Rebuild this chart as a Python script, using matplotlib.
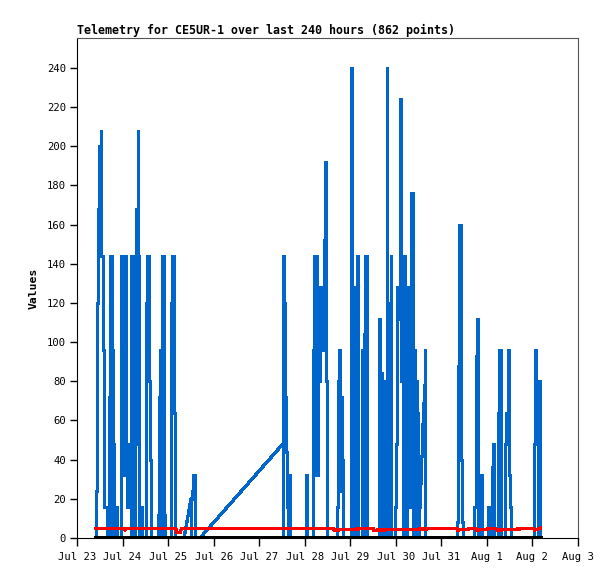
import matplotlib
matplotlib.use("Agg")
import matplotlib.pyplot as plt

# hours since Jul 23 00:00
blue_hours = [
    9.75, 10.0, 10.3, 10.8, 11.3, 11.85, 12.4, 12.9, 13.45, 13.7, 14.2, 15.3, 15.8, 16.3, 16.6,
    17.1, 17.65, 18.2, 18.4, 19.0, 19.2, 19.5, 20.5, 20.6, 21.0, 22.9, 23.2, 23.45, 24.0, 24.2,
    24.75, 25.0, 25.3, 25.55, 25.8, 26.05, 26.35, 26.6, 26.9, 27.4, 27.9, 28.2, 28.45, 29.0, 29.2,
    29.5, 30.0, 30.55, 31.1, 31.35, 31.9, 32.1, 32.4, 32.7, 32.9, 34.0, 34.25, 34.5, 36.4, 36.6,
    37.15, 37.7, 38.2, 38.7, 39.25, 42.4, 42.7, 43.2, 43.7, 44.0, 44.3, 44.8, 45.3, 45.6, 46.1,
    46.6, 49.0, 49.5, 50.05, 50.6, 51.1, 51.4,
    56.4, 60.1, 60.6, 60.9, 62.2, 62.4,
    64.8, 108.5, 108.8, 109.3, 109.6, 109.9, 110.1, 110.7, 110.9, 111.4, 112.0, 112.2,
    120.7, 120.9, 121.2,
    124.3, 124.6, 125.1, 125.7, 125.9, 126.2, 126.5, 126.7, 127.0, 127.5, 127.8, 128.3, 128.85,
    129.1, 129.6, 130.1, 130.7, 131.2, 131.7,
    136.5, 137.0, 137.3, 137.6, 138.1, 138.6, 139.1, 139.6, 139.9, 140.4,
    144.1, 144.4, 144.9, 145.2, 145.7, 146.0, 146.5, 147.0, 147.6, 148.1, 148.3, 150.0, 150.2,
    150.5, 151.2, 151.5, 152.0, 152.6, 152.9,
    158.6, 158.9, 159.4, 159.9, 160.5, 160.7, 162.0, 162.3, 163.1, 163.6, 163.9, 165.2, 165.4,
    165.7, 167.3, 167.55, 168.1, 168.6, 169.4, 170.2, 170.7, 171.2, 171.8, 172.0, 172.3, 172.8,
    173.3, 173.6, 173.9, 174.4, 174.9, 175.5, 175.75, 176.0, 176.5, 176.8, 177.3, 177.6, 178.1,
    178.3, 178.6, 179.1, 179.7, 179.9, 180.2, 180.7, 181.2, 181.8, 182.3, 182.8, 183.4, 183.6,
    200.2, 200.5, 201.0, 201.5, 202.1, 202.6, 203.1, 203.4,
    209.2, 209.4, 210.0, 210.5, 211.0, 211.3, 212.4, 212.6, 213.2, 213.4, 216.6, 216.8, 217.1,
    217.9, 218.1, 218.7, 219.2, 219.7, 220.0, 221.9, 222.1, 222.6, 223.2, 223.4, 225.3, 225.5,
    226.3, 226.9, 227.4, 227.9, 228.4, 228.7,
    240.8, 241.0, 241.5, 242.1, 242.6, 242.9, 243.5, 243.7, 244.2,
]
blue_values = [
    0, 24, 72, 120, 168, 200, 208, 144, 104, 96, 16, 16, 0, 8, 0,
    72, 144, 80, 0, 96, 48, 0, 0, 16, 0, 0, 104, 144, 40, 144,
    32, 144, 56, 32, 144, 48, 16, 40, 48, 32, 16, 0, 144, 96, 48,
    144, 0, 48, 120, 168, 208, 208, 144, 48, 0, 0, 16, 0, 0, 120,
    144, 144, 80, 40, 0, 0, 12, 72, 96, 24, 0, 144, 144, 16, 12,
    0, 0, 120, 144, 144, 64, 0,
    0, 20, 24, 32, 32, 0,
    0, 48, 144, 120, 72, 48, 44, 32, 16, 0, 32, 0,
    0, 32, 0,
    0, 96, 144, 32, 144, 112, 144, 32, 112, 128, 80, 112, 120,
    96, 128, 152, 192, 80, 0,
    0, 16, 48, 80, 96, 64, 24, 72, 40, 0,
    0, 240, 128, 0, 88, 0, 128, 24, 144, 96, 0, 0, 96,
    0, 0, 104, 144, 72, 0,
    0, 24, 112, 84, 24, 0, 0, 80, 240, 120, 0, 0, 144,
    0, 0, 16, 48, 128, 112, 224, 80, 128, 0, 112, 144, 112,
    56, 0, 112, 128, 80, 16, 88, 176, 176, 96, 0, 96, 48,
    0, 80, 64, 16, 0, 16, 28, 42, 58, 69, 78, 96, 0,
    0, 8, 88, 160, 96, 40, 8, 0,
    0, 16, 56, 93, 112, 0, 0, 32, 16, 0, 0, 16, 0,
    0, 16, 36, 48, 24, 0, 0, 64, 96, 48, 0, 0, 48,
    64, 96, 72, 32, 16, 0,
    0, 48, 96, 80, 48, 0, 0, 80, 0,
]

# the two long gaps are drawn as straight ramps, the rest as steps
ramp_hours = [[56.4, 60.1], [64.8, 108.5]]
ramp_values = [[0, 20], [0, 48]]

red_hours = [9.75, 25.0, 25.4, 26.0, 52.0, 52.5, 54.5, 55.0, 135.0, 135.3, 156.0, 156.3,
             200.0, 200.4, 210.0, 210.5, 220.0, 221.5, 240.5, 241.0, 244.2]
red_values = [5, 5, 4, 5, 5, 3, 3, 5, 5, 4, 5, 4,
              5, 4, 5, 4, 5, 4, 5, 4, 5]

zero_hours = [9.75, 244.2]
zero_values = [0, 0]

y_ticks = list(range(0, 241, 20))
x_ticks = [24 * d for d in range(12)]
x_labels = ["Jul 23", "Jul 24", "Jul 25", "Jul 26", "Jul 27", "Jul 28", "Jul 29",
            "Jul 30", "Jul 31", "Aug 1", "Aug 2", "Aug 3"]

MONO = "DejaVu Sans Mono"
BLUE = "#0066cc"

fig = plt.figure(figsize=(6.15, 5.79), dpi=100, facecolor="white")
ax = fig.add_axes([0.1252, 0.0708, 0.8146, 0.8636])

ax.plot(blue_hours, blue_values, color=BLUE, lw=1.8, antialiased=False,
        drawstyle="steps-post")
for rh, rv in zip(ramp_hours, ramp_values):
    ax.plot(rh, rv, color=BLUE, lw=1.6, antialiased=False)
ax.plot(red_hours, red_values, color="#ff0000", lw=1.6, antialiased=False)
ax.plot(zero_hours, zero_values, color="black", lw=2.2, antialiased=False)

ax.set_xlim(0, 264)
ax.set_ylim(0, 255.3)
ax.set_xticks(x_ticks)
ax.set_xticklabels(x_labels, fontfamily=MONO, fontsize=7.6)
ax.set_yticks(y_ticks)
ax.set_yticklabels([str(v) for v in y_ticks], fontfamily=MONO, fontsize=7.6)
ax.tick_params(axis="x", direction="out", length=6, width=1, pad=4)
ax.tick_params(axis="y", direction="out", length=5, width=1, pad=3)

for side in ("top", "right"):
    ax.spines[side].set_color("#555555")
for side in ("left", "bottom"):
    ax.spines[side].set_color("black")

ax.set_title("Telemetry for CE5UR-1 over last 240 hours (862 points)",
             loc="left", fontfamily=MONO, fontweight="bold", fontsize=8.4, pad=3)
ax.set_ylabel("Values", fontfamily=MONO, fontweight="bold", fontsize=8.2, labelpad=6)

fig.savefig("out.png", dpi=100, facecolor="white")
